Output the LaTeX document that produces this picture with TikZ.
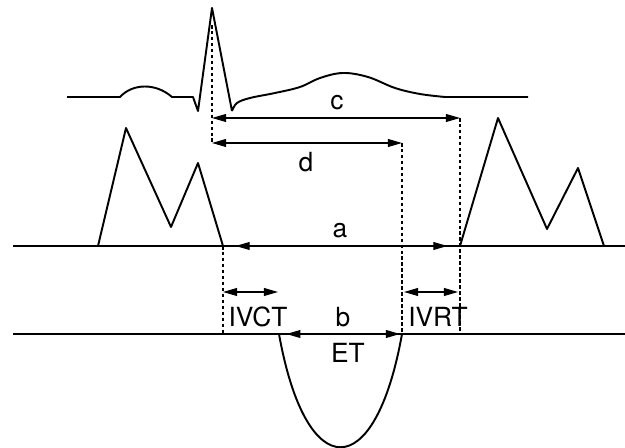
\documentclass[tikz,border=0pt]{standalone}
\usepackage{fontspec}
\setsansfont{TeX Gyre Heros}
\usepackage{tikz}
\usetikzlibrary{arrows.meta,calc}

\begin{document}
\begin{tikzpicture}[
  x=0.02cm, y=-0.02cm,
  wave/.style={line width=1.1pt, line join=round},
  base/.style={line width=0.6pt},
  guide/.style={line width=0.6pt, dash pattern=on 2pt off 1.4pt},
  dim/.style={{Triangle[length=8pt,width=4.5pt]}-{Triangle[length=8pt,width=4.5pt]},
              line width=0.6pt},
  lbl/.style={font=\sffamily\fontsize{15}{17}\selectfont, anchor=base, inner sep=0pt}
]
  \useasboundingbox (0,0) rectangle (625,448);
  % timing points
  \coordinate (rtop) at (212,25);
  \coordinate (rc)   at (212,118);
  \coordinate (rd)   at (212,143);
  \coordinate (mcl)  at (223,246);
  \coordinate (mcv)  at (223,292);
  \coordinate (mcb)  at (223,334);
  \coordinate (aob)  at (279,334);
  \coordinate (aov)  at (278,292);
  \coordinate (acd)  at (402,143);
  \coordinate (acv)  at (404,292);
  \coordinate (acb)  at (402,334);
  \coordinate (moc)  at (460,118);
  \coordinate (mol)  at (460,246);
  \coordinate (mov)  at (458,292);
  \coordinate (mob)  at (460,334);

  % ECG
  \draw[wave] (67,97) -- (120,97) .. controls (133,83) and (156,83) .. (172,97)
    -- (193,97) -- (198,111) -- (212,8) -- (232,111)
    plot[smooth, tension=0.6] coordinates {(232,111) (237,103) (250,98) (275,93)
      (300,87) (320,78) (343,73) (368,77) (395,88) (420,94) (445,97)}
    -- (528,97);

  % mitral flow
  \draw[base] (13,246) -- (625,246);
  \draw[wave] (98,246) -- (126,128) -- (171,227) -- (198,163) -- (mcl);
  \draw[wave] (mol) -- (498,118) -- (547,229) -- (578,168) -- (604,246);

  % aortic flow
  \draw[base] (13,334) -- (625,334);
  \draw[wave] (aob) .. controls (306,485) and (375,485) .. (acb);

  % guides
  \draw[guide] (rtop) -- (rd);
  \draw[guide] (acd) -- (acb);
  \draw[guide] (moc) -- (mob);
  \draw[guide] (mcl) -- (mcb);

  % intervals
  \draw[dim] (rc) -- (moc);
  \draw[dim] (rd) -- (acd);
  \draw[dim, shorten <=12\pgflinewidth, shorten >=12\pgflinewidth] (mcl) -- (mol);
  \draw[dim] (mcv) -- (aov);
  \draw[dim] (acv) -- (mov);
  \draw[dim, shorten <=7\pgflinewidth, shorten >=2\pgflinewidth] (aob) -- (acb);

  \node[lbl] (lc) at (337,110) {c};
  \node[lbl] (ld) at (306,172) {d};
  \node[lbl] (la) at (340,238) {a};
  \node[lbl] (livct) at (258,327) {IVCT};
  \node[lbl] (lb) at (343,327) {b};
  \node[lbl] (livrt) at (438,327) {IVRT};
  \node[lbl] (let) at (348,363) {ET};
\end{tikzpicture}
\end{document}
